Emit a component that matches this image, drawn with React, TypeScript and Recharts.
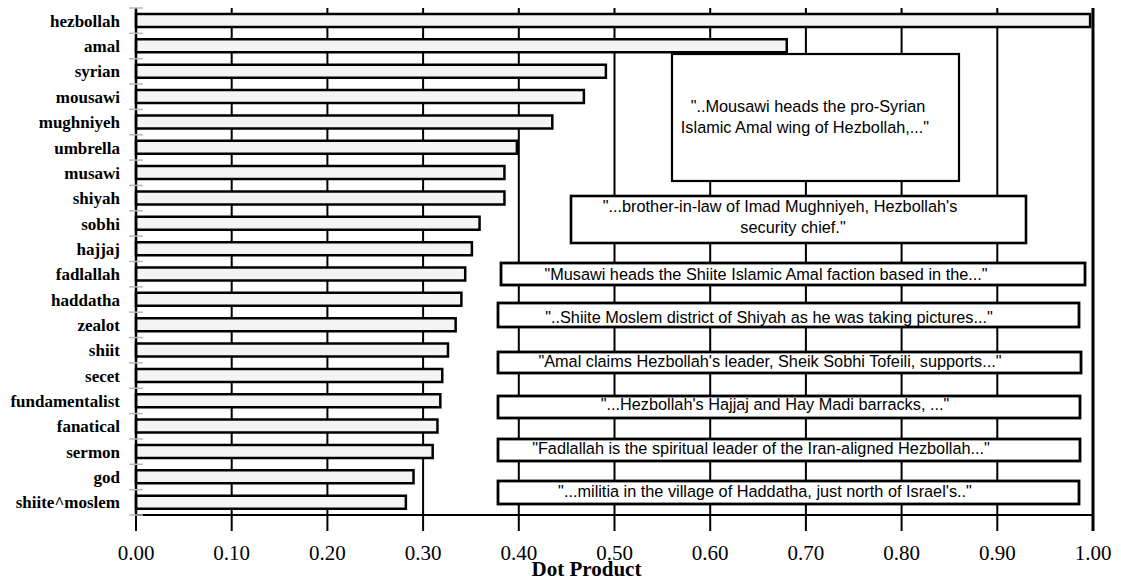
import React from "react";
import { Bar, BarChart, CartesianGrid, XAxis, YAxis } from "recharts";

// Terms ranked by dot product against "hezbollah", with the context
// snippets that were pasted over the right-hand side of the figure.

const terms = [
  "hezbollah",
  "amal",
  "syrian",
  "mousawi",
  "mughniyeh",
  "umbrella",
  "musawi",
  "shiyah",
  "sobhi",
  "hajjaj",
  "fadlallah",
  "haddatha",
  "zealot",
  "shiit",
  "secet",
  "fundamentalist",
  "fanatical",
  "sermon",
  "god",
  "shiite^moslem",
];

const dotProduct = [
  0.997, 0.68, 0.491, 0.468, 0.435, 0.398, 0.385, 0.385, 0.359, 0.351, 0.344,
  0.34, 0.334, 0.326, 0.32, 0.318, 0.315, 0.31, 0.29, 0.282,
];

const xTicks = [0, 0.1, 0.2, 0.3, 0.4, 0.5, 0.6, 0.7, 0.8, 0.9, 1.0];

const snippets = [
  ['"..Mousawi heads the pro-Syrian', 'Islamic Amal wing of Hezbollah,..."'],
  ['"...brother-in-law of Imad Mughniyeh, Hezbollah\'s', 'security chief."'],
  ['"Musawi heads the Shiite Islamic Amal faction based in the..."'],
  ['"..Shiite Moslem district of Shiyah as he was taking pictures..."'],
  ['"Amal claims Hezbollah\'s leader, Sheik Sobhi Tofeili, supports..."'],
  ['"...Hezbollah\'s Hajjaj and Hay Madi barracks, ..."'],
  ['"Fadlallah is the spiritual leader of the Iran-aligned Hezbollah..."'],
  ['"...militia in the village of Haddatha, just north of Israel\'s.."'],
];

const data = terms.map((name, i) => ({ name, value: dotProduct[i] }));

// ---- layout ----
const W = 1121;
const H = 580;
const MARGIN = { top: 8, right: 28, left: 6, bottom: 15 };
const Y_AXIS_W = 130;
const X_AXIS_H = 50;
const PLOT_H = H - MARGIN.top - MARGIN.bottom - X_AXIS_H;
const BAND = PLOT_H / terms.length;

const SERIF = '"Liberation Serif", "Times New Roman", serif';
const SANS = '"Liberation Sans", Arial, Helvetica, sans-serif';

// note boxes: [x, y, w, h, stroke], text lines: [cx, baseline]
const boxes: [number, number, number, number, number][] = [
  [672, 54, 287, 127, 2.2],
  [571, 196, 455, 47, 2.6],
  [501, 263, 584, 22, 2.8],
  [498, 303, 581, 24, 2.8],
  [498, 352, 583, 21, 2.8],
  [498, 396, 582, 22, 2.8],
  [498, 439, 582, 22, 2.8],
  [498, 481, 581, 23, 2.8],
];
const lines: [number, number][][] = [
  [
    [808, 111.5],
    [805, 133],
  ],
  [
    [780, 211.5],
    [793, 233],
  ],
  [[766, 280]],
  [[769, 322.5]],
  [[770, 366.5]],
  [[775, 410]],
  [[761, 454]],
  [[765, 497]],
];

function TermTick(props: any) {
  const { x, y, payload, index } = props;
  const half = BAND / 2;
  const last = index === terms.length - 1;
  return (
    <g>
      <line x1={x + 9} x2={x + 23} y1={y - half} y2={y - half} stroke="#b8b8b8" strokeWidth={1.5} />
      {last && (
        <line x1={x + 9} x2={x + 23} y1={y + half} y2={y + half} stroke="#b8b8b8" strokeWidth={1.5} />
      )}
      <text
        x={x}
        y={y}
        dy="0.36em"
        textAnchor="end"
        fill="#000"
        style={{ fontFamily: SERIF, fontWeight: 700, fontSize: 17 }}
      >
        {payload.value}
      </text>
    </g>
  );
}

function AxisTitle(props: any) {
  const vb = props.viewBox || {};
  const cx = (vb.x ?? 136) + (vb.width ?? 957) / 2 - 28;
  return (
    <text
      x={cx}
      y={576}
      textAnchor="middle"
      fill="#000"
      style={{ fontFamily: SERIF, fontWeight: 700, fontSize: 21 }}
    >
      Dot Product
    </text>
  );
}

export default function App() {
  return (
    <div style={{ position: "absolute", left: 0, top: 0, width: W, height: H, background: "#fff" }}>
      <BarChart width={W} height={H} data={data} layout="vertical" margin={MARGIN} barSize={13}>
        <CartesianGrid vertical horizontal={false} stroke="#000" strokeWidth={2} />
        <XAxis
          type="number"
          domain={[0, 1]}
          ticks={xTicks}
          height={X_AXIS_H}
          tickSize={16}
          tickMargin={14}
          axisLine={{ stroke: "#000", strokeWidth: 2 }}
          tickLine={{ stroke: "#000", strokeWidth: 2 }}
          tick={{ fill: "#000", fontFamily: SERIF, fontSize: 21 }}
          tickFormatter={(v: number) => v.toFixed(2)}
          label={<AxisTitle />}
        />
        <YAxis
          type="category"
          dataKey="name"
          width={Y_AXIS_W}
          tickSize={0}
          tickMargin={16}
          tickLine={false}
          interval={0}
          axisLine={{ stroke: "#000", strokeWidth: 2.5 }}
          tick={<TermTick />}
        />
        <Bar dataKey="value" fill="#f4f4f4" stroke="#000" strokeWidth={2.5} isAnimationActive={false} />
      </BarChart>
      <svg
        width={W}
        height={H}
        style={{ position: "absolute", left: 0, top: 0, pointerEvents: "none" }}
      >
        <line x1={1093} x2={1093} y1={8} y2={531} stroke="#000" strokeWidth={3} />
        {boxes.map(([x, y, w, h, sw], i) => (
          <g key={i}>
            <rect x={x} y={y} width={w} height={h} fill="#fff" stroke="#000" strokeWidth={sw} />
            {snippets[i].map((t, j) => (
              <text
                key={j}
                x={lines[i][j][0]}
                y={lines[i][j][1]}
                textAnchor="middle"
                fill="#000"
                style={{ fontFamily: SANS, fontSize: 16.3 }}
              >
                {t}
              </text>
            ))}
          </g>
        ))}
      </svg>
    </div>
  );
}
